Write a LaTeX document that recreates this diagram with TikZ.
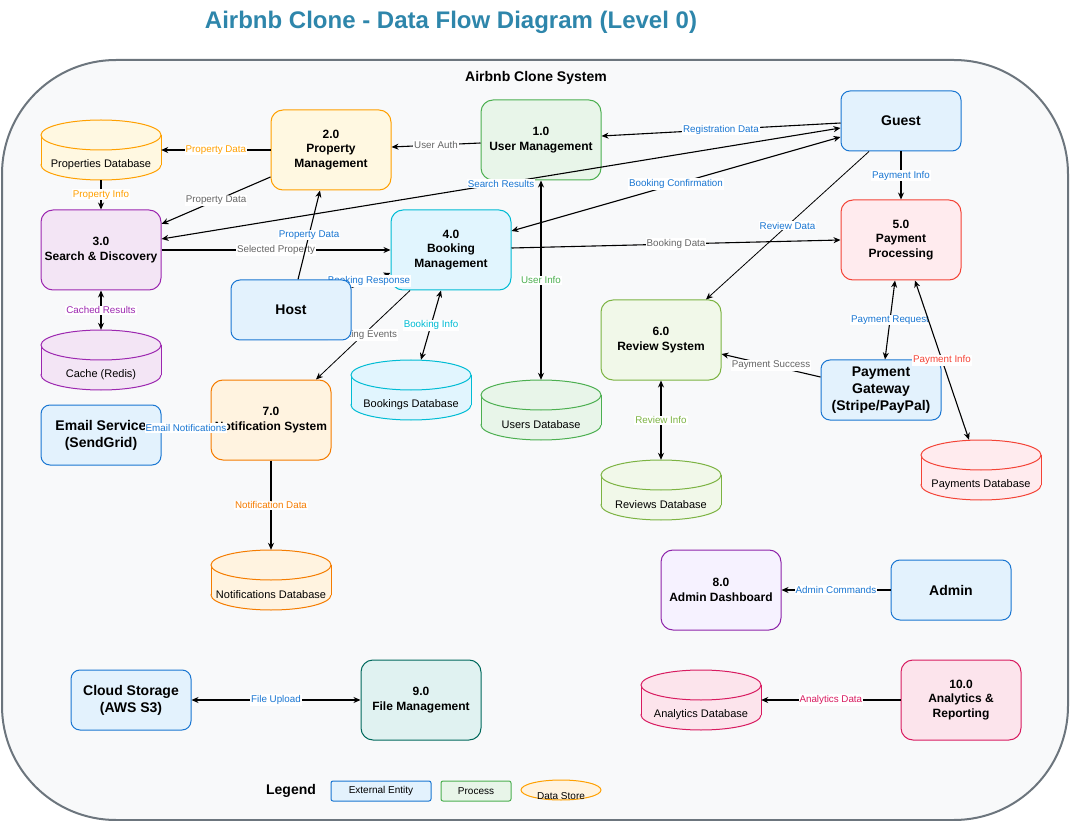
\documentclass[tikz,border=0pt]{standalone}
\usepackage{fontspec}
\setmainfont{Liberation Sans}
\usetikzlibrary{arrows.meta}
\pgfdeclarelayer{front}
\pgfsetlayers{main,front}

\definecolor{titleblue}{HTML}{2E86AB}
\definecolor{sysfill}{HTML}{F8F9FA}
\definecolor{sysline}{HTML}{6C757D}
\definecolor{extfill}{HTML}{E3F2FD}
\definecolor{extline}{HTML}{1976D2}
\definecolor{userfill}{HTML}{E8F5E9}
\definecolor{userline}{HTML}{4CAF50}
\definecolor{propfill}{HTML}{FFF8E1}
\definecolor{propline}{HTML}{FFA000}
\definecolor{searchfill}{HTML}{F3E5F5}
\definecolor{searchline}{HTML}{9C27B0}
\definecolor{bookfill}{HTML}{E1F5FE}
\definecolor{bookline}{HTML}{00BCD4}
\definecolor{payfill}{HTML}{FFEBEE}
\definecolor{payline}{HTML}{F44336}
\definecolor{reviewfill}{HTML}{F1F8E9}
\definecolor{reviewline}{HTML}{7CB342}
\definecolor{notiffill}{HTML}{FFF3E0}
\definecolor{notifline}{HTML}{F57C00}
\definecolor{adminfill}{HTML}{F6F2FF}
\definecolor{adminline}{HTML}{8E24AA}
\definecolor{filefill}{HTML}{E0F2F1}
\definecolor{fileline}{HTML}{00695C}
\definecolor{statfill}{HTML}{FCE4EC}
\definecolor{statline}{HTML}{D81B60}
\definecolor{lblue}{HTML}{1976D2}
\definecolor{lgray}{HTML}{666666}

\tikzset{
  dfd/.tip={Stealth[length=7pt,width=6pt]},
  proc/.style={draw=#1line, fill=#1fill, line width=1pt, rounded corners=12pt,
    minimum width=120pt, minimum height=80pt, align=center,
    font=\bfseries\fontsize{12}{14.5}\selectfont},
  ext/.style={draw=extline, fill=extfill, line width=1pt, rounded corners=9pt,
    minimum width=120pt, minimum height=60pt, align=center,
    font=\bfseries\fontsize{14}{17}\selectfont},
  flow/.style={draw=black, line width=1.1pt, -dfd},
  twoway/.style={draw=black, line width=1.1pt, dfd-dfd},
  lbl/.style={fill=white, text=#1, inner sep=1pt, font=\fontsize{9.8}{11}\selectfont},
  dbbox/.style={minimum width=120pt, minimum height=60pt, inner sep=0pt},
  dbtext/.style={font=\fontsize{11}{13}\selectfont},
  legbox/.style={draw=#1line, fill=#1fill, line width=1pt, rounded corners=2pt,
    minimum height=20pt, inner sep=0pt, font=\fontsize{10}{12}\selectfont}
}

% data store: name, x, y, colour, text
\newcommand{\datastore}[5]{
  \draw[draw=#4line, fill=#4fill, line width=1pt] (#2,#3+15) ellipse [x radius=60pt, y radius=15pt];
  \fill[#4fill] (#2-60,#3-15) rectangle (#2+60,#3+15);
  \draw[#4line, line width=1pt] (#2-60,#3-15) -- (#2-60,#3+15) (#2+60,#3-15) -- (#2+60,#3+15);
  \draw[draw=#4line, fill=#4fill, line width=1pt] (#2,#3-15) ellipse [x radius=60pt, y radius=15pt];
  \node[dbbox] (#1) at (#2,#3) {};
  \node[dbtext] at (#2,#3+15) {#5};
}

\begin{document}
\begin{tikzpicture}[x=1pt,y=-1pt]
\useasboundingbox (0,0) rectangle (1072,821);

% title and system boundary
\node[text=titleblue, font=\bfseries\fontsize{24}{28}\selectfont] (title) at (451,22) {Airbnb Clone - Data Flow Diagram (Level 0)};
\draw[draw=sysline, fill=sysfill, line width=2pt, rounded corners=114pt] (2,60) rectangle (1068,820);
\node[font=\bfseries\fontsize{14}{17}\selectfont] (system) at (536,78) {Airbnb Clone System};

% external entities
\node[ext] (guest) at (901,121) {Guest};
\begin{pgfonlayer}{front}
\node[ext] (host) at (291,310) {Host};
\end{pgfonlayer}
\node[ext] (gateway) at (881,390) {Payment\\Gateway\\(Stripe/PayPal)};
\node[ext] (email) at (101,435) {Email Service\\(SendGrid)};
\node[ext] (admin) at (951,590) {Admin};
\node[ext] (cloud) at (131,700) {Cloud Storage\\(AWS S3)};

% processes
\node[proc=user] (user) at (541,140) {1.0\\User Management};
\node[proc=prop] (prop) at (331,150) {2.0\\Property\\Management};
\node[proc=search] (search) at (101,250) {3.0\\Search \& Discovery};
\node[proc=book] (booking) at (451,250) {4.0\\Booking\\Management};
\node[proc=pay] (payment) at (901,240) {5.0\\Payment\\Processing};
\node[proc=review] (review) at (661,340) {6.0\\Review System};
\node[proc=notif] (notif) at (271,420) {7.0\\Notification System};
\node[proc=admin] (admindash) at (721,590) {8.0\\Admin Dashboard};
\node[proc=file] (files) at (421,700) {9.0\\File Management};
\node[proc=stat] (analytics) at (961,700) {10.0\\Analytics \&\\Reporting};

% data stores
\datastore{propdb}{101}{150}{prop}{Properties Database}
\datastore{cache}{101}{360}{search}{Cache (Redis)}
\datastore{bookdb}{411}{390}{book}{Bookings Database}
\datastore{userdb}{541}{410}{user}{Users Database}
\datastore{paydb}{981}{470}{pay}{Payments Database}
\datastore{reviewdb}{661}{490}{review}{Reviews Database}
\datastore{notifdb}{271}{580}{notif}{Notifications Database}
\datastore{statdb}{701}{700}{stat}{Analytics Database}

% data flows
\draw[flow] ([yshift=-2pt]guest.west) -- node[lbl=lblue] {Registration Data} ([yshift=4pt]user.east);
\draw[flow] ([yshift=-3pt]user.west) -- node[lbl=lgray] {User Auth} ([yshift=3pt]prop.east);
\draw[flow] (prop.west) -- node[lbl=propline] {Property Data} (propdb.east);
\draw[flow] (propdb.south) -- node[lbl=propline] {Property Info} (search.north);
\draw[flow] ([yshift=-27pt]prop.west) -- node[lbl=lgray] {Property Data} ([yshift=26pt]search.east);
\draw[twoway] ([yshift=-7pt]guest.west) -- node[lbl=lblue] {Search Results} ([yshift=11pt]search.east);
\draw[twoway] ([yshift=-16pt]guest.west) -- node[lbl=lblue] {Booking Confirmation} ([yshift=19pt]booking.east);
\draw[twoway] (user.south) -- node[lbl=userline] {User Info} (userdb.north);
\draw[flow] (search.east) -- node[lbl=lgray] {Selected Property} (booking.west);
\draw[flow] ([xshift=7pt]host.north) -- node[lbl=lblue] {Property Data} ([xshift=-11pt]prop.south);
\draw[flow] ([yshift=-8pt]host.north east) -- node[lbl=lblue, pos=0.45] {Booking Response} ([yshift=-23pt]booking.west);
\draw[flow, line width=0.8pt] ([xshift=-41pt]booking.south) -- node[lbl=lgray] {Booking Events} ([xshift=45pt]notif.north);
\draw[twoway] ([xshift=-10pt]booking.south) -- node[lbl=bookline] {Booking Info} ([xshift=10pt]bookdb.north);
\draw[flow] ([yshift=2pt]booking.east) -- node[lbl=lgray] {Booking Data} (payment.west);
\draw[flow] (guest.south) -- node[lbl=lblue] {Payment Info} (payment.north);
\draw[flow, line width=0.8pt] ([xshift=-32pt]guest.south) -- node[lbl=lblue] {Review Data} ([xshift=45pt]review.north);
\draw[twoway] ([xshift=-6pt]payment.south) -- node[lbl=lblue] {Payment Request} ([xshift=4pt]gateway.north);
\draw[twoway] ([xshift=14pt]payment.south) -- node[lbl=payline] {Payment Info} ([xshift=-12pt]paydb.north);
\draw[flow] ([yshift=13pt]gateway.west) -- node[lbl=lgray] {Payment Success} ([yshift=-14pt]review.east);
\draw[twoway] (review.south) -- node[lbl=reviewline] {Review Info} (reviewdb.north);
\draw[twoway] (search.south) -- node[lbl=searchline] {Cached Results} (cache.north);
\draw[flow] ([yshift=-8pt]notif.west) -- node[lbl=lblue] {Email Notifications} ([yshift=7pt]email.east);
\draw[flow] (notif.south) -- node[lbl=notifline] {Notification Data} (notifdb.north);
\draw[flow] (admin.west) -- node[lbl=lblue] {Admin Commands} (admindash.east);
\draw[flow] (analytics.west) -- node[lbl=statline] {Analytics Data} (statdb.east);
\draw[twoway] (cloud.east) -- node[lbl=lblue] {File Upload} (files.west);

% legend
\node[font=\bfseries\fontsize{14}{17}\selectfont] (legend) at (291,791) {Legend};
\node[legbox=ext, minimum width=100pt] (legext) at (381,791) {External Entity};
\node[legbox=user, minimum width=70pt] (legproc) at (476,791) {Process};
\draw[draw=propline, fill=notiffill, line width=1pt] (561,790) ellipse [x radius=40pt, y radius=10pt];
\node[font=\fontsize{10}{12}\selectfont] (legstore) at (561,796) {Data Store};

\end{tikzpicture}
\end{document}
